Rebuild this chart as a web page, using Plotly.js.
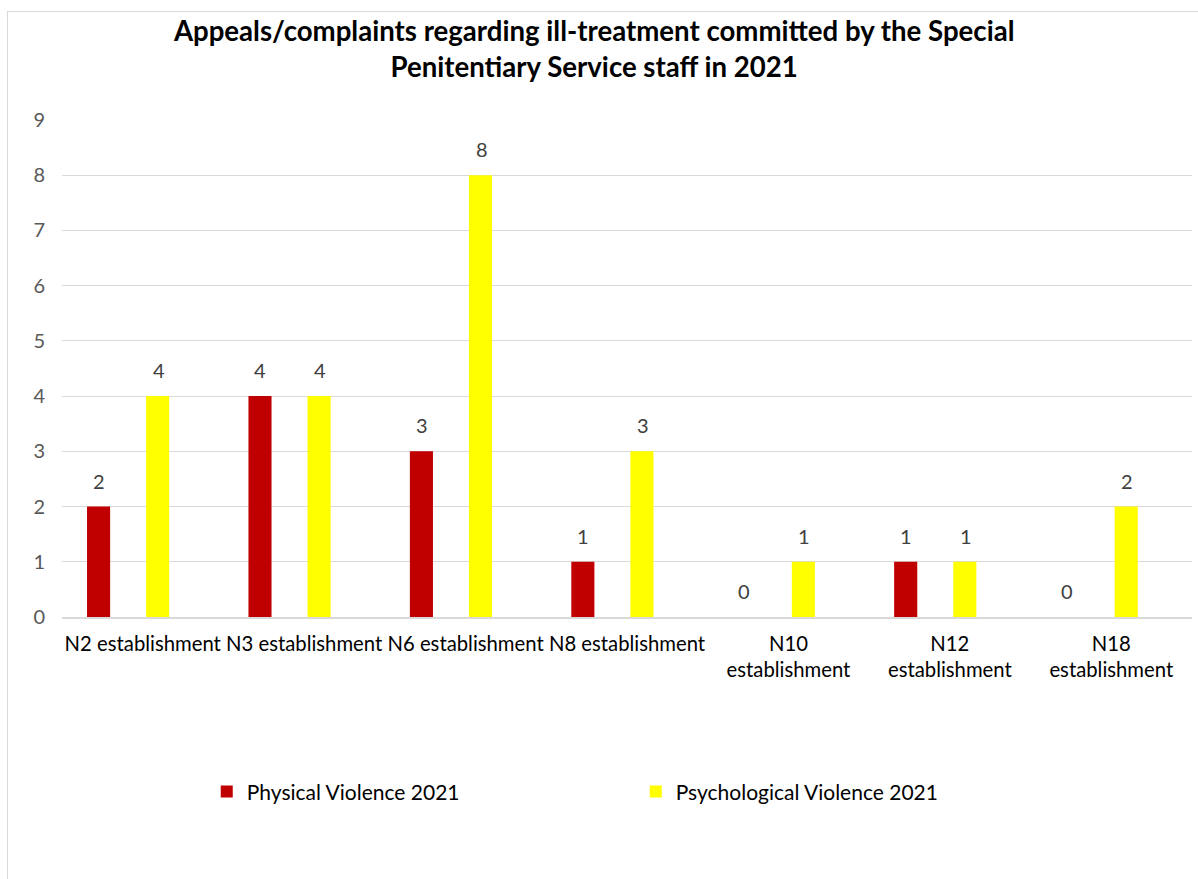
<!DOCTYPE html>
<html>
<head>
<meta charset="utf-8">
<script src="https://cdn.plot.ly/plotly-3.0.1.min.js"></script>
<style>
  html, body { margin: 0; padding: 0; background: #fff; }
  #wrap { position: relative; width: 1198px; height: 879px; overflow: hidden; }
  #chart { width: 1198px; height: 879px; }
  #frame { position: absolute; left: 7px; top: 11px; width: 1400px; height: 1000px;
           border-left: 1.5px solid #d9d9d9; border-top: 1.5px solid #d9d9d9; pointer-events: none; }
</style>
</head>
<body>
<div id="wrap">
  <div id="chart"></div>
  <div id="frame"></div>
</div>
<script>
const categories = [
  "N2 establishment",
  "N3 establishment",
  "N6 establishment",
  "N8 establishment",
  "N10<br>establishment",
  "N12<br>establishment",
  "N18<br>establishment"
];
const physical = [2, 4, 3, 1, 0, 1, 0];
const psychological = [4, 4, 8, 3, 1, 1, 2];
const seriesNames = ["Physical Violence 2021", "Psychological Violence 2021"];
const colors = ["#C00000", "#FFFF00"];

const FONT = "Lato, 'Open Sans', sans-serif";
// bar placement within each category (fraction of category width), as in the source chart
const barOffsets = [-0.345, 0.021];
const barWidth = 0.143;
const labelShift = [-44, 16];

const traces = [physical, psychological].map((vals, i) => ({
  type: "bar",
  name: seriesNames[i],
  x: categories,
  y: vals,
  width: barWidth,
  offset: barOffsets[i],
  marker: { color: colors[i] },
  hoverinfo: "x+y"
}));

const annotations = [];
[physical, psychological].forEach((vals, i) => {
  vals.forEach((v, j) => {
    annotations.push({
      x: categories[j], y: v, xref: "x", yref: "y",
      text: String(v), showarrow: false,
      xshift: labelShift[i], yshift: 12,
      yanchor: "bottom",
      font: { family: FONT, size: 20, color: "#404040" }
    });
  });
});

const layout = {
  width: 1198, height: 879,
  margin: { l: 62, r: 6, t: 120, b: 262 },
  paper_bgcolor: "#ffffff", plot_bgcolor: "#ffffff",
  title: {
    text: "<b>Appeals/complaints regarding ill-treatment committed by the Special<br>Penitentiary Service staff in 2021</b>",
    x: 0.496, xref: "container", xanchor: "center",
    y: 0.953, yref: "container", yanchor: "top",
    font: { family: FONT, size: 27.6, color: "#000000" }
  },
  barmode: "overlay",
  xaxis: {
    type: "category",
    showgrid: false,
    showline: true, linecolor: "#d9d9d9", linewidth: 1.5,
    ticks: "",
    tickangle: 0,
    tickfont: { family: FONT, size: 20.3, color: "#000000" },
    ticklabelstandoff: 8
  },
  yaxis: {
    range: [0, 9], dtick: 1, tick0: 0,
    showgrid: true, gridcolor: "#d9d9d9", gridwidth: 1.2,
    zeroline: false, showline: false, ticks: "",
    tickfont: { family: FONT, size: 20, color: "#595959" },
    ticklabelstandoff: 16
  },
  showlegend: true,
  legend: {
    orientation: "h",
    x: 0.1281, xanchor: "left",
    y: -0.352, yanchor: "middle",
    entrywidth: 384, entrywidthmode: "pixels",
    font: { family: FONT, size: 21, color: "#000000" },
    bgcolor: "rgba(0,0,0,0)"
  },
  annotations: annotations
};

Plotly.newPlot("chart", traces, layout, { displayModeBar: false, staticPlot: true });
</script>
</body>
</html>
